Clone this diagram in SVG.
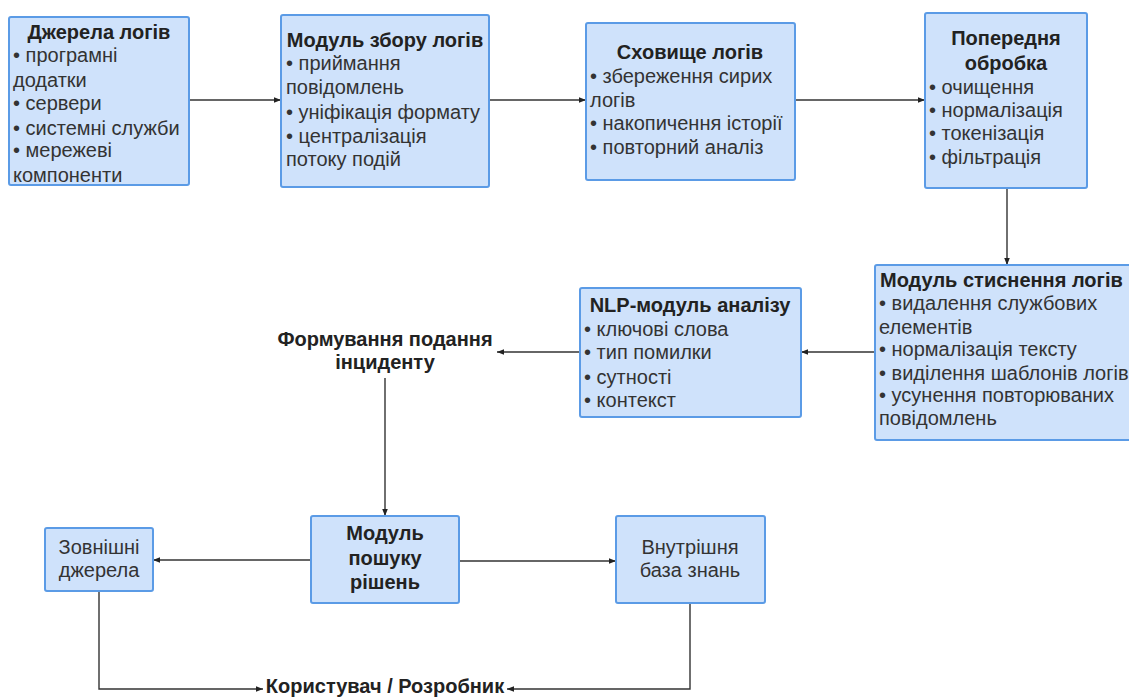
<svg xmlns="http://www.w3.org/2000/svg" width="1129" height="698" viewBox="0 0 1129 698">
<defs>
<marker id="ah" viewBox="0 0 10 10" refX="10" refY="5" markerWidth="7" markerHeight="7" markerUnits="userSpaceOnUse" orient="auto">
<path d="M0,1 L10,5 L0,9 Z" fill="#222"/>
</marker>
<style>
.box{fill:#cfe2fb;stroke:#5b9be6;stroke-width:2}
.t{font-family:"Liberation Sans",Arial,sans-serif;font-size:20px;fill:#333}
.b{font-family:"Liberation Sans",Arial,sans-serif;font-size:20px;font-weight:bold;fill:#222}
.c{text-anchor:middle}
.con{fill:none;stroke:#333;stroke-width:1.4;marker-end:url(#ah)}
</style>
</defs>
<rect width="1129" height="698" fill="#fff"/>
<g id="connectors">
<path class="con" d="M189,100 H281"/>
<path class="con" d="M489,100 H586"/>
<path class="con" d="M795,100 H925"/>
<path class="con" d="M1007,188 V265"/>
<path class="con" d="M875,352 H801"/>
<path class="con" d="M580,352 H497"/>
<path class="con" d="M385,378 V516"/>
<path class="con" d="M311,560 H153"/>
<path class="con" d="M459,561 H616"/>
<path class="con" d="M99,591 V689 H263"/>
<path class="con" d="M690,603 V689 H507"/>
</g>
<g id="n1">
<rect class="box" x="9" y="17" width="180" height="168" rx="2"/>
<text class="b c" x="99" y="39">Джерела логів</text>
<text class="t" x="13" y="62">• програмні</text>
<text class="t" x="13" y="87">додатки</text>
<text class="t" x="13" y="110">• сервери</text>
<text class="t" x="13" y="135">• системні служби</text>
<text class="t" x="13" y="157">• мережеві</text>
<text class="t" x="13" y="182">компоненти</text>
</g>
<g id="n2">
<rect class="box" x="281" y="15" width="208" height="172" rx="2"/>
<text class="b c" x="385" y="47">Модуль збору логів</text>
<text class="t" x="286" y="70">• приймання</text>
<text class="t" x="286" y="94">повідомлень</text>
<text class="t" x="286" y="119">• уніфікація формату</text>
<text class="t" x="286" y="143">• централізація</text>
<text class="t" x="286" y="166">потоку подій</text>
</g>
<g id="n3">
<rect class="box" x="586" y="23" width="209" height="157" rx="2"/>
<text class="b c" x="690" y="59">Сховище логів</text>
<text class="t" x="590" y="83">• збереження сирих</text>
<text class="t" x="590" y="107">логів</text>
<text class="t" x="590" y="130">• накопичення історії</text>
<text class="t" x="590" y="154">• повторний аналіз</text>
</g>
<g id="n4">
<rect class="box" x="925" y="13" width="162" height="175" rx="2"/>
<text class="b c" x="1006" y="45">Попередня</text>
<text class="b c" x="1006" y="70">обробка</text>
<text class="t" x="929" y="94">• очищення</text>
<text class="t" x="929" y="117">• нормалізація</text>
<text class="t" x="929" y="140">• токенізація</text>
<text class="t" x="929" y="164">• фільтрація</text>
</g>
<g id="n5">
<rect class="box" x="875" y="265" width="258" height="175" rx="2"/>
<text class="b" x="880" y="287">Модуль стиснення логів</text>
<text class="t" x="879" y="310">• видалення службових</text>
<text class="t" x="879" y="334">елементів</text>
<text class="t" x="879" y="356">• нормалізація тексту</text>
<text class="t" x="879" y="380">• виділення шаблонів логів</text>
<text class="t" x="879" y="402">• усунення повторюваних</text>
<text class="t" x="879" y="425">повідомлень</text>
</g>
<g id="n6">
<rect class="box" x="580" y="288" width="221" height="129" rx="2"/>
<text class="b c" x="690" y="312">NLP-модуль аналізу</text>
<text class="t" x="584" y="336">• ключові слова</text>
<text class="t" x="584" y="359">• тип помилки</text>
<text class="t" x="584" y="384">• сутності</text>
<text class="t" x="584" y="407">• контекст</text>
</g>
<g id="n7">
<text class="b c" x="385" y="346">Формування подання</text>
<text class="b c" x="385" y="369">інциденту</text>
</g>
<g id="n8">
<rect class="box" x="311" y="516" width="148" height="87" rx="2"/>
<text class="b c" x="385" y="540">Модуль</text>
<text class="b c" x="385" y="565">пошуку</text>
<text class="b c" x="385" y="589">рішень</text>
</g>
<g id="n9">
<rect class="box" x="45" y="528" width="108" height="63" rx="2"/>
<text class="t c" x="99" y="554">Зовнішні</text>
<text class="t c" x="99" y="577">джерела</text>
</g>
<g id="n10">
<rect class="box" x="616" y="516" width="149" height="87" rx="2"/>
<text class="t c" x="690" y="554">Внутрішня</text>
<text class="t c" x="690" y="577">база знань</text>
</g>
<g id="n11">
<text class="b c" x="385" y="693" font-size="19">Користувач / Розробник</text>
</g>
</svg>
